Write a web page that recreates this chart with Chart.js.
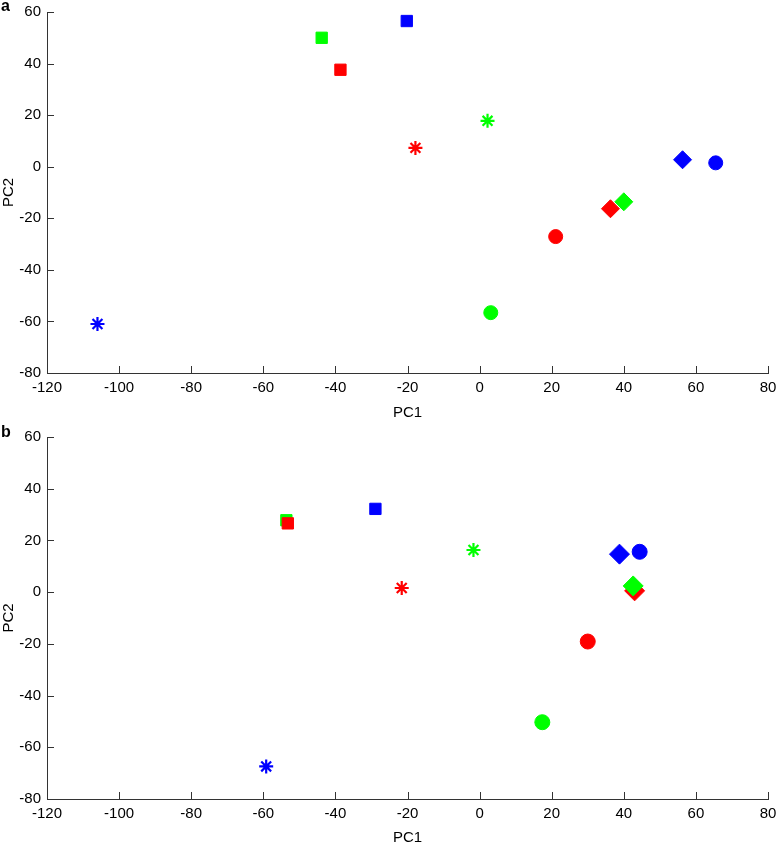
<!DOCTYPE html>
<html>
<head>
<meta charset="utf-8">
<script src="https://cdn.jsdelivr.net/npm/chart.js@4.4.1/dist/chart.umd.min.js"></script>
<style>
  html, body { margin: 0; padding: 0; background: #fff; overflow: hidden; }
  .panel { position: relative; width: 776px; }
  .tag { position: absolute; left: 1px; font: bold 16px 'Liberation Sans', Arial, sans-serif; color: #000; }
</style>
</head>
<body>
<div class="panel" style="height:425px">
  <span class="tag" style="top:-3px">a</span>
  <canvas id="chartA" width="776" height="425"></canvas>
</div>
<div class="panel" style="height:425px">
  <span class="tag" style="top:-2px">b</span>
  <canvas id="chartB" width="776" height="425"></canvas>
</div>
<script>
// marker order matters: later points sit on top (see panel b overlaps)
const markerColor = ['#00ff00', '#ff0000', '#0000ff',
                     '#ff0000', '#00ff00', '#0000ff',
                     '#ff0000', '#00ff00', '#0000ff',
                     '#ff0000', '#00ff00', '#0000ff'];
const markerShape = ['rect', 'rect', 'rect',
                     'star', 'star', 'star',
                     'rectRot', 'rectRot', 'rectRot',
                     'circle', 'circle', 'circle'];

const aPC1 = [-43.8, -38.6, -20.2, -17.8, 2.2, -106, 36.3, 40.0, 56.3, 21.1, 3.1, 65.5];
const aPC2 = [50.0, 37.6, 56.5, 7.3, 17.8, -61, -16.3, -13.6, 2.7, -27.1, -56.6, 1.5];

const bPC1 = [-53.6, -53.2, -28.9, -21.6, -1.7, -59.2, 43.0, 42.6, 38.8, 30.0, 17.4, 44.4];
const bPC2 = [27.8, 26.6, 32.2, 1.6, 16.3, -67.4, 0.5, 2.4, 14.7, -19.1, -50.3, 15.6];

const xTicks = { min: -120, max: 80, step: 20 };
const yTicks = { min: -80, max: 60, step: 20 };

const font = { family: "'Liberation Sans', Arial, Helvetica, sans-serif", size: 15 };

const radiusFor = (shape, big) => {
  if (shape === 'rect') return 8;
  if (shape === 'rectRot') return big ? 10 : 9;
  if (shape === 'star') return 7;
  return big ? 7.5 : 7;
};

// matlab style inward tick marks
const inwardTicks = {
  id: 'inwardTicks',
  afterDraw(chart) {
    const { ctx, chartArea, scales } = chart;
    ctx.save();
    ctx.strokeStyle = '#333';
    ctx.lineWidth = 1;
    ctx.beginPath();
    scales.x.ticks.forEach(t => {
      const px = Math.round(scales.x.getPixelForValue(t.value)) + 0.5;
      ctx.moveTo(px, chartArea.bottom);
      ctx.lineTo(px, chartArea.bottom - 7);
    });
    scales.y.ticks.forEach(t => {
      const py = Math.round(scales.y.getPixelForValue(t.value)) + 0.5;
      ctx.moveTo(chartArea.left, py);
      ctx.lineTo(chartArea.left + 7, py);
    });
    ctx.stroke();
    ctx.restore();
  }
};

function makeChart(id, xs, ys, opts) {
  const pts = xs.map((x, i) => ({ x: x, y: ys[i] }));
  return new Chart(document.getElementById(id), {
    type: 'scatter',
    data: {
      datasets: [{
        data: pts,
        pointStyle: markerShape,
        pointBackgroundColor: markerColor,
        pointBorderColor: markerColor,
        pointBorderWidth: markerShape.map(s => s === 'star' ? 2.2 : 1),
        pointRadius: markerShape.map(s => radiusFor(s, opts.big)),
        pointHoverRadius: markerShape.map(s => radiusFor(s, opts.big)),
      }]
    },
    options: {
      responsive: false,
      animation: false,
      layout: { autoPadding: false, padding: { top: 12, right: 8, left: 0, bottom: 0 } },
      plugins: { legend: { display: false }, tooltip: { enabled: false } },
      scales: {
        x: {
          type: 'linear',
          min: xTicks.min, max: xTicks.max,
          ticks: { stepSize: xTicks.step, color: '#000', font: font, padding: 6, maxRotation: 0 },
          grid: { display: false, drawTicks: false },
          border: { display: true, color: '#333', width: 1 },
          title: { display: true, text: 'PC1', color: '#000', font: font, padding: { top: 0, bottom: opts.titleBottom } },
          afterFit: s => { s.height = opts.xHeight; s.paddingLeft = 0; s.paddingRight = 0; }
        },
        y: {
          type: 'linear',
          min: yTicks.min, max: yTicks.max,
          ticks: { stepSize: yTicks.step, color: '#000', font: font, padding: 6 },
          grid: { display: false, drawTicks: false },
          border: { display: true, color: '#333', width: 1 },
          title: { display: true, text: 'PC2', color: '#000', font: font, padding: 0 },
          afterFit: s => { s.width = 47; s.paddingTop = 0; s.paddingBottom = 0; }
        }
      }
    },
    plugins: [inwardTicks]
  });
}

makeChart('chartA', aPC1, aPC2, { xHeight: 52, titleBottom: 3, big: false });
makeChart('chartB', bPC1, bPC2, { xHeight: 51, titleBottom: 3, big: true });
</script>
</body>
</html>
